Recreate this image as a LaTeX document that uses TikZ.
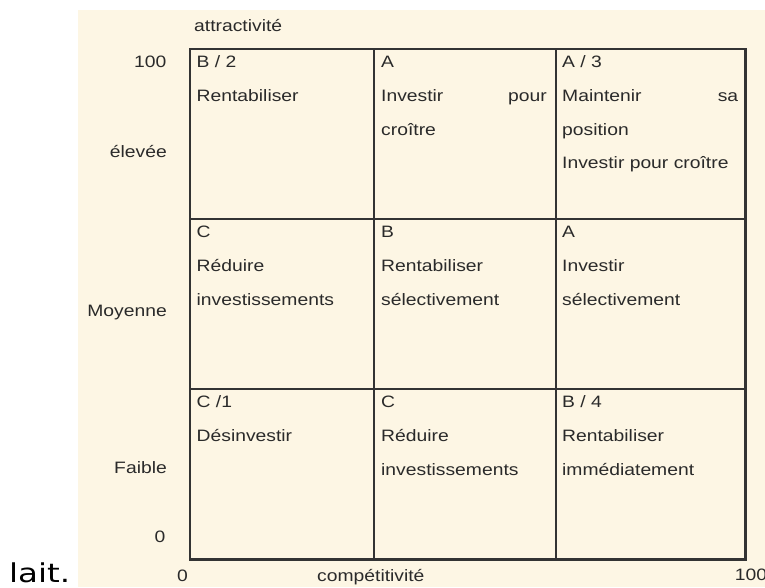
\documentclass[tikz,border=0pt]{standalone}
\usepackage{fontspec}
\setmainfont{Liberation Sans}[FakeStretch=1.17]
\newfontfamily\laitfont{DejaVu Sans}[FakeStretch=1.25]
\definecolor{cream}{HTML}{FDF6E4}
\definecolor{gridc}{HTML}{333333}
\definecolor{txtc}{HTML}{2A2A2A}
\newcommand\cellfont{\fontsize{16.5}{20}\selectfont}
\begin{document}
\begin{tikzpicture}[x=1pt,y=-1pt,
  ct/.style={anchor=base west, inner sep=0pt, font=\cellfont, text=txtc},
  yl/.style={anchor=base east, inner sep=0pt, font=\cellfont, text=txtc},
  gridline/.style={draw=gridc, line width=2.2pt}]
\useasboundingbox (0,0) rectangle (765,587);
\clip (0,0) rectangle (765,587);
\fill[cream] (78,10) rectangle (765,587);
% grid
\coordinate (NW) at (190,49);
\coordinate (SE) at (745.5,559.5);
\draw[gridline, line join=miter] (NW) rectangle (SE);
\draw[gridline] (374,49) -- (374,559.5);
\draw[gridline] (556,49) -- (556,559.5);
\draw[gridline] (190,219) -- (745.5,219);
\draw[gridline] (190,389) -- (745.5,389);
% axis labels
\node[ct] (attr) at (194,31) {attractivité};
\node[yl] (y100) at (166.5,67) {100};
\node[yl] (yelev) at (167,157) {élevée};
\node[yl] (ymoy) at (167,316) {Moyenne};
\node[yl] (yfaib) at (167,473) {Faible};
\node[yl] (y0) at (165.5,542) {0};
\node[ct] (x0) at (177,581) {0};
\node[ct] (xcomp) at (317,581) {compétitivité};
\node[ct] (x100) at (734.7,580.5) {100};
% row 1
\node[ct] (a1) at (196.5,67) {B / 2};
\node[ct] (a2) at (196.5,101) {Rentabiliser};
\node[ct] (b1) at (381,67) {A};
\node[ct] (b2) at (381,101) {\hbox to 165.5pt{Investir\hfill pour}};
\node[ct] (b3) at (381,135) {croître};
\node[ct] (c1) at (562,67) {A / 3};
\node[ct] (c2) at (562,101) {\hbox to 176pt{Maintenir\hfill sa}};
\node[ct] (c3) at (562,135) {position};
\node[ct] (c4) at (562,168.5) {Investir pour croître};
% row 2
\node[ct] (d1) at (196.5,237) {C};
\node[ct] (d2) at (196.5,271) {Réduire};
\node[ct] (d3) at (196.5,305) {investissements};
\node[ct] (e1) at (381,237) {B};
\node[ct] (e2) at (381,271) {Rentabiliser};
\node[ct] (e3) at (381,305) {sélectivement};
\node[ct] (f1) at (562,237) {A};
\node[ct] (f2) at (562,271) {Investir};
\node[ct] (f3) at (562,305) {sélectivement};
% row 3
\node[ct] (g1) at (196.5,407) {C /1};
\node[ct] (g2) at (196.5,441) {Désinvestir};
\node[ct] (h1) at (381,407) {C};
\node[ct] (h2) at (381,441) {Réduire};
\node[ct] (h3) at (381,475) {investissements};
\node[ct] (i1) at (562,407) {B / 4};
\node[ct] (i2) at (562,441) {Rentabiliser};
\node[ct] (i3) at (562,475) {immédiatement};
% stray text
\node[anchor=base west, inner sep=0pt, font={\laitfont\fontsize{26}{30}\selectfont}, text=black] (lait) at (9,582) {lait.};
\end{tikzpicture}
\end{document}
